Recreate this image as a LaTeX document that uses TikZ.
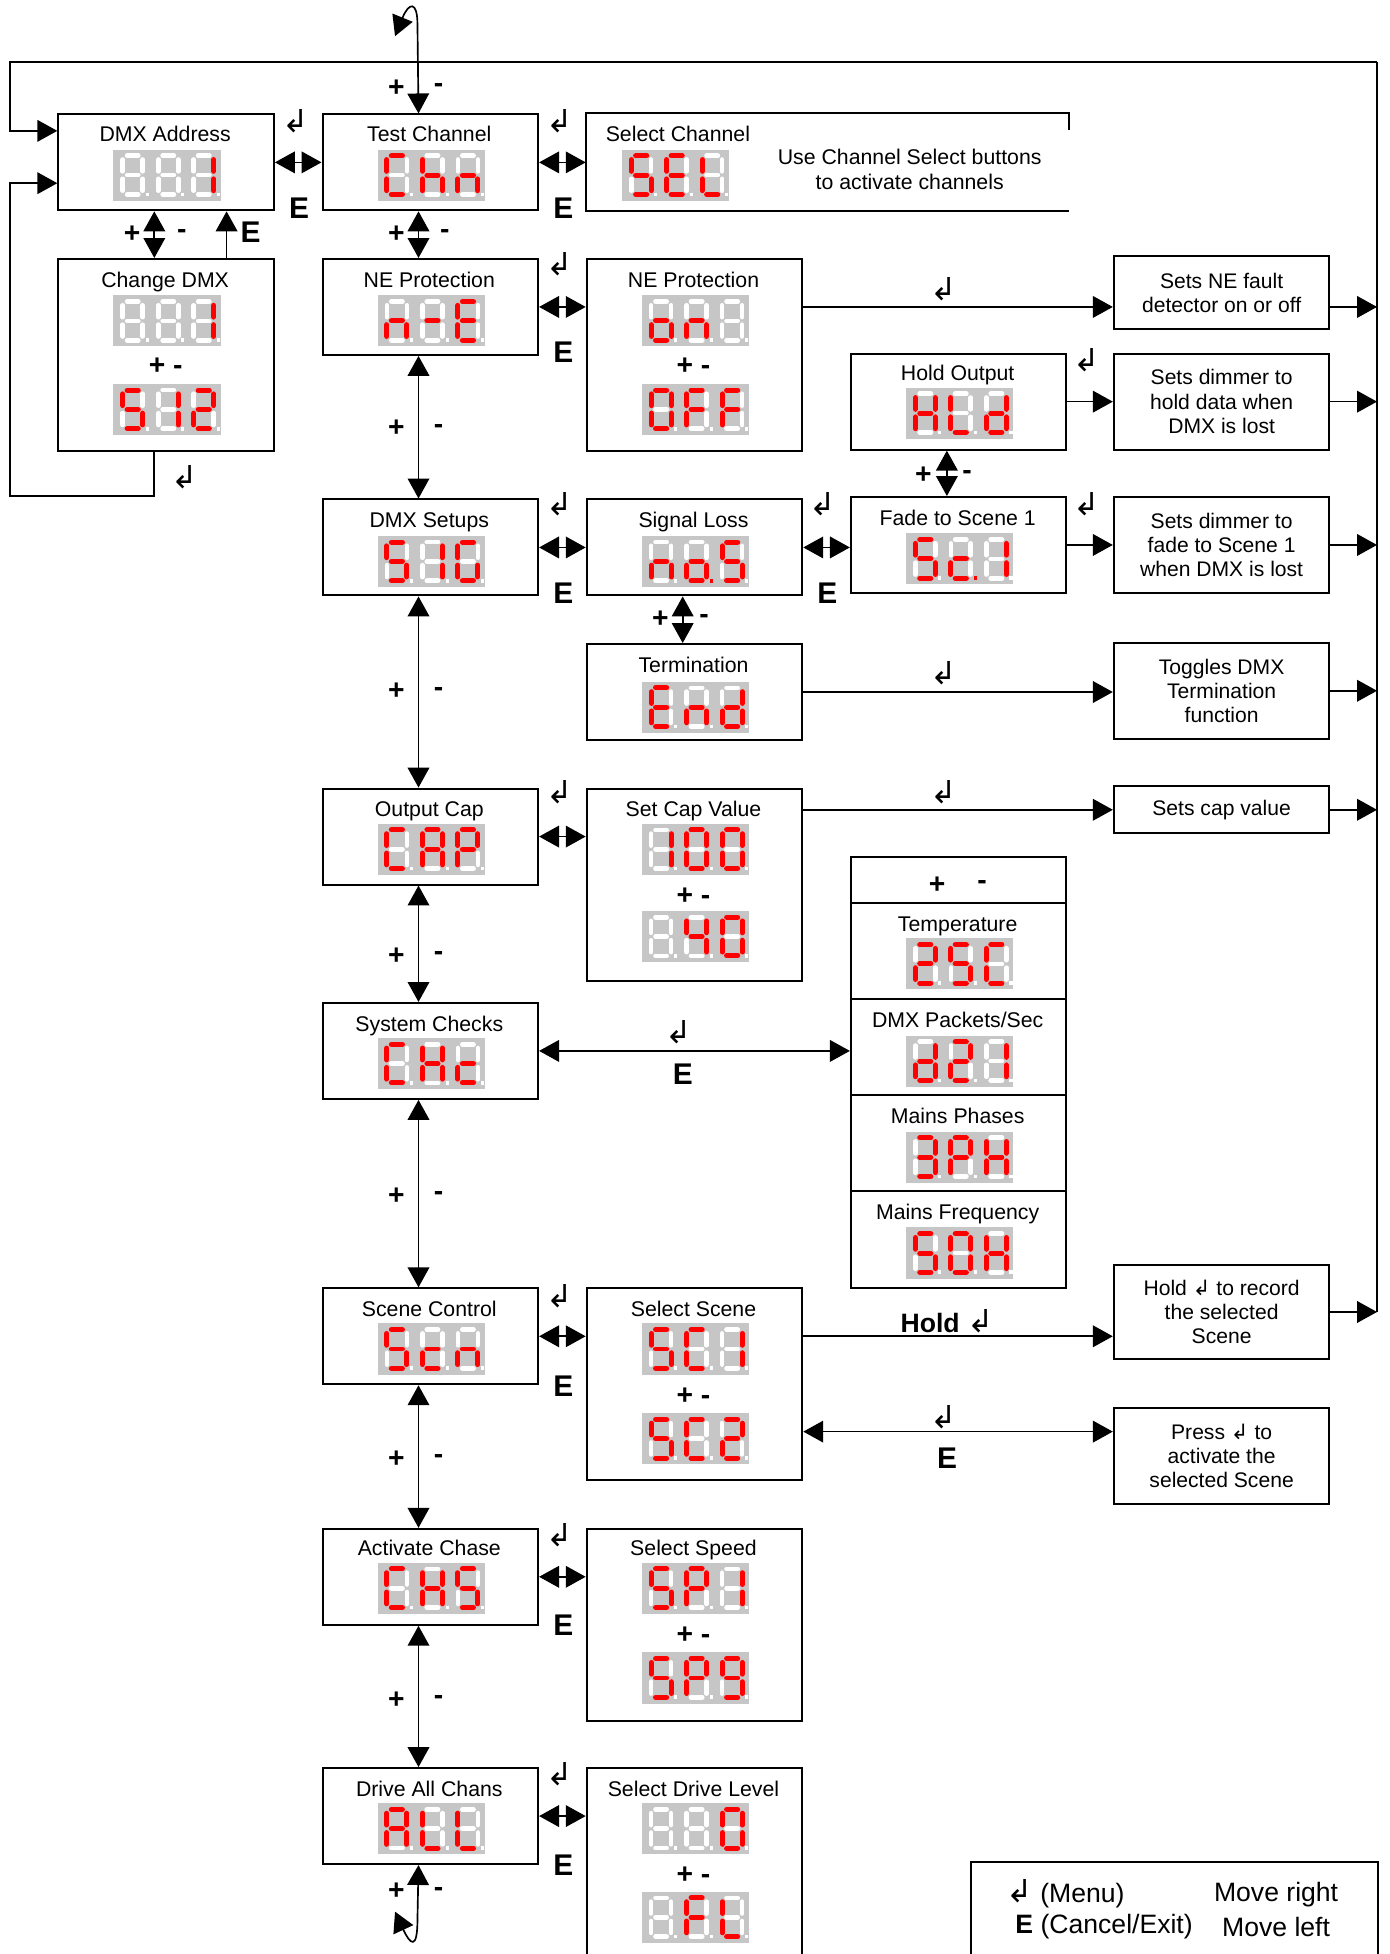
\documentclass[tikz,border=0pt]{standalone}
\usepackage{fontspec}
\setmainfont{Liberation Sans}
\newfontfamily\symfont{DejaVu Sans}
\usetikzlibrary{arrows.meta}

\definecolor{dispgrey}{RGB}{198,198,198}
\definecolor{segred}{RGB}{255,0,0}

\newcommand{\ret}{{\symfont ↲}}

% segments of one digit: #1 offset of the digit, #2 style
\def\sga#1#2{\draw[#2] (#1+9,5) -- (#1+18,5);}
\def\sgb#1#2{\draw[#2] (#1+21.5,8) -- (#1+21.5,17.5);}
\def\sgc#1#2{\draw[#2] (#1+21.5,23.5) -- (#1+21.5,33);}
\def\sgd#1#2{\draw[#2] (#1+9,36) -- (#1+18,36);}
\def\sge#1#2{\draw[#2] (#1+5.5,23.5) -- (#1+5.5,33);}
\def\sgf#1#2{\draw[#2] (#1+5.5,8) -- (#1+5.5,17.5);}
\def\sgg#1#2{\draw[#2] (#1+9,20.5) -- (#1+18,20.5);}
\def\sgp#1#2{\fill[#2] (#1+24,34.5) rectangle (#1+26.5,37.5);}
\def\sgx#1#2{}

% lit segments of the glyphs
\def\glblank{x}
\def\glone{b,c}
\def\gltwo{a,b,g,e,d}
\def\glthree{a,b,g,c,d}
\def\glfour{f,g,b,c}
\def\glnine{a,b,c,d,f,g}
\def\glO{a,b,c,d,e,f}
\def\glA{a,b,c,e,f,g}
\def\glC{a,f,e,d}
\def\glc{g,e,d}
\def\glcdot{g,e,d,p}
\def\gld{b,c,d,e,g}
\def\glE{a,f,g,e,d}
\def\glF{a,f,g,e}
\def\glG{a,f,e,d,c}
\def\glH{f,e,g,b,c}
\def\glh{f,e,g,c}
\def\glL{f,e,d}
\def\gln{e,g,c}
\def\glo{g,c,d,e}
\def\glodot{g,c,d,e,p}
\def\glP{a,b,f,g,e}
\def\glS{a,f,g,c,d}
\def\gldash{g}

\newcommand{\segdigit}[2]{%
  \foreach \s in {a,b,c,d,e,f,g,p}{\csname sg\s\endcsname{#1}{segoff}}%
  \foreach \s in #2{\csname sg\s\endcsname{#1}{segon}}}

% display with three digits, top left corner at (#1,#2)
\newcommand{\segdisp}[5]{%
  \begin{scope}[shift={(#1,#2)}]
    \fill[dispgrey] (0,0) rectangle (86,41);
    \segdigit{2}{#3}\segdigit{30.5}{#4}\segdigit{59}{#5}
  \end{scope}}

\tikzset{every picture/.style={line width=1pt},
  menubox/.style={draw, line width=1.2pt, anchor=north west, inner sep=0pt, minimum width=129.75pt, minimum height=57.75pt},
  tallbox/.style={menubox, minimum height=115.5pt},
  notebox/.style={menubox, align=center, font=\fontsize{12.7}{14.6}\selectfont},
  title/.style={font=\fontsize{12.8}{15}\selectfont, inner sep=0pt, text height=9.4pt, text depth=2.6pt},
  pm/.style={font=\fontsize{17}{19}\selectfont\bfseries, inner sep=0pt},
  elab/.style={font=\fontsize{18}{20}\selectfont\bfseries, inner sep=0pt},
  retsym/.style={font=\fontsize{19}{21}\selectfont, inner sep=0pt},
  segoff/.style={white, line width=2.8pt, line cap=round},
  segon/.style={segred, line width=3pt, line cap=round},
  arr/.style={-{Triangle[length=12pt,width=13pt]}},
  dblarr/.style={{Triangle[length=12pt,width=13pt]}-{Triangle[length=12pt,width=13pt]}}
}

\begin{document}
\begin{tikzpicture}[x=0.75pt,y=0.75pt,yscale=-1,xscale=1]
\useasboundingbox (0,0) rectangle (1115,1568);
\clip (0,0) rectangle (1115,1568);

%Shape: Rectangle (menu column)
\node[menubox] (dmxaddr) at (46,91) {};
\node[menubox] (testch) at (258,91) {};
\node[menubox, draw=none, minimum width=289.5pt] (selch) at (470,91) {};
\draw[line width=1.2pt] ([yshift=10pt]selch.north east) -- (selch.north east) -- (selch.north west) -- (selch.south west) -- (selch.south east);
\node[tallbox] (chgdmx) at (46,207) {};
\node[menubox] (neprot) at (258,207) {};
\node[tallbox] (neprot2) at (470,207) {};
\node[menubox] (hold) at (682,283) {};
\node[menubox] (dmxset) at (258,400) {};
\node[menubox] (signal) at (470,400) {};
\node[menubox] (fade) at (682,398) {};
\node[menubox] (term) at (470,516) {};
\node[menubox] (outcap) at (258,632) {};
\node[tallbox] (setcap) at (470,632) {};
\node[menubox, minimum height=259.5pt] (syslist) at (682,687) {};
\node[menubox] (syschk) at (258,804) {};
\node[menubox] (scenectl) at (258,1033) {};
\node[tallbox] (selscene) at (470,1033) {};
\node[menubox] (chase) at (258,1226) {};
\node[tallbox] (speed) at (470,1226) {};
\node[menubox] (driveall) at (258,1418) {};
\node[tallbox] (seldrive) at (470,1418) {};

%Shape: Rectangle (right column)
\node[notebox, minimum height=43.5pt] (snef) at (893,205) {Sets NE fault\\detector on or off};
\node[notebox] (shold) at (893,283) {Sets dimmer to\\hold data when\\DMX is lost};
\node[notebox] (sfade) at (893,398) {Sets dimmer to\\fade to Scene 1\\when DMX is lost};
\node[notebox] (stog) at (893,515) {Toggles DMX\\Termination\\function};
\node[notebox, minimum height=28.5pt] (scap) at (893,630) {Sets cap value};
\node[notebox, minimum height=57pt] (srec) at (893,1014) {Hold \ret{} to record\\the selected\\Scene};
\node[notebox] (spress) at (893,1129) {Press \ret{} to\\activate the\\selected Scene};
\node[menubox, minimum width=245.25pt, minimum height=60pt] (legend) at (778,1493) {};

%Straight Lines (rows of the check list)
\draw[line width=1.2pt] (682,725) -- (855,725);
\draw[line width=1.2pt] (682,802) -- (855,802);
\draw[line width=1.2pt] (682,879) -- (855,879);
\draw[line width=1.2pt] (682,956) -- (855,956);

% Text Node
\node[title] (dmxaddr-t) at (132.5,109) {DMX Address};
\node[title] (testch-t) at (344.5,109) {Test Channel};
\node[title] (selch-t) at (544,109) {Select Channel};
\node[font=\fontsize{12.8}{14.6}\selectfont, align=center, inner sep=0pt] (selch-n) at (730,136) {Use Channel Select buttons\\to activate channels};
\node[title] (chgdmx-t) at (132.5,226) {Change DMX};
\node[title] (neprot-t) at (344.5,226) {NE Protection};
\node[title] (neprot2-t) at (556.5,226) {NE Protection};
\node[title] (hold-t) at (768.5,301) {Hold Output};
\node[title] (dmxset-t) at (344.5,419) {DMX Setups};
\node[title] (signal-t) at (556.5,419) {Signal Loss};
\node[title] (fade-t) at (768.5,417) {Fade to Scene 1};
\node[title] (term-t) at (556.5,535) {Termination};
\node[title] (outcap-t) at (344.5,651) {Output Cap};
\node[title] (setcap-t) at (556.5,651) {Set Cap Value};
\node[title] (temp-t) at (768.5,743) {Temperature};
\node[title] (packets-t) at (768.5,820) {DMX Packets/Sec};
\node[title] (phases-t) at (768.5,897) {Mains Phases};
\node[title] (freq-t) at (768.5,974) {Mains Frequency};
\node[title] (syschk-t) at (344.5,823) {System Checks};
\node[title] (scenectl-t) at (344.5,1052) {Scene Control};
\node[title] (selscene-t) at (556.5,1052) {Select Scene};
\node[title] (chase-t) at (344.5,1244) {Activate Chase};
\node[title] (speed-t) at (556.5,1244) {Select Speed};
\node[title] (driveall-t) at (344.5,1437) {Drive All Chans};
\node[title] (seldrive-t) at (556.5,1437) {Select Drive Level};

% displays
\segdisp{91}{120}{\glblank}{\glblank}{\glone}
\segdisp{303}{120}{\glC}{\glh}{\gln}
\segdisp{499}{120}{\glS}{\glE}{\glL}
\segdisp{91}{237}{\glblank}{\glblank}{\glone}
\segdisp{91}{308}{\glS}{\glone}{\gltwo}
\segdisp{303}{237}{\gln}{\gldash}{\glE}
\segdisp{515}{237}{\glo}{\gln}{\glblank}
\segdisp{515}{308}{\glO}{\glF}{\glF}
\segdisp{727}{311}{\glH}{\glL}{\gld}
\segdisp{303}{430}{\glS}{\glone}{\glG}
\segdisp{515}{430}{\gln}{\glodot}{\glS}
\segdisp{727}{428}{\glS}{\glcdot}{\glone}
\segdisp{515}{547}{\glE}{\gln}{\gld}
\segdisp{303}{661}{\glC}{\glA}{\glP}
\segdisp{515}{661}{\glone}{\glO}{\glO}
\segdisp{515}{731}{\glblank}{\glfour}{\glO}
\segdisp{727}{753}{\gltwo}{\glS}{\glC}
\segdisp{727}{831}{\gld}{\gltwo}{\glone}
\segdisp{727}{908}{\glthree}{\glP}{\glH}
\segdisp{727}{985}{\glS}{\glO}{\glH}
\segdisp{303}{833}{\glC}{\glH}{\glc}
\segdisp{303}{1062}{\glS}{\glc}{\gln}
\segdisp{515}{1062}{\glS}{\glC}{\glone}
\segdisp{515}{1134}{\glS}{\glC}{\gltwo}
\segdisp{303}{1254}{\glC}{\glH}{\glS}
\segdisp{515}{1254}{\glS}{\glP}{\glone}
\segdisp{515}{1326}{\glS}{\glP}{\glnine}
\segdisp{303}{1447}{\glA}{\glL}{\glL}
\segdisp{515}{1447}{\glblank}{\glblank}{\glO}
\segdisp{515}{1518}{\glblank}{\glF}{\glL}

% Text Node (+ - inside boxes)
\node[pm] (chgdmx-pm) at (133,294) {+ -};
\node[pm] (neprot2-pm) at (556.5,294) {+ -};
\node[pm] (setcap-pm) at (556.5,719) {+ -};
\node[pm] (syslist-p) at (752,710) {+};
\node[pm] (syslist-m) at (788,710) {-};
\node[pm] (selscene-pm) at (556.5,1120) {+ -};
\node[pm] (speed-pm) at (556.5,1312) {+ -};
\node[pm] (seldrive-pm) at (556.5,1505) {+ -};

%Straight Lines
\coordinate (railtop) at (1105,50);
\coordinate (lpa) at (8,50);
\coordinate (lpb) at (8,105);
\coordinate (lpc) at (8,398);
\coordinate (lpd) at (8,147);
\draw (railtop) -- (srec.east -| railtop);
\draw[arr] (railtop) -- (lpa) -- (lpb) -- (lpb -| dmxaddr.west);
\draw[arr] ([xshift=-7.1pt]chgdmx.south) |- (lpc) -- (lpd) -- (lpd -| dmxaddr.west);

\draw[dblarr] (dmxaddr.east) -- (testch.west);
\draw[dblarr] (testch.east) -- (selch.west);
\draw[dblarr] ([xshift=-7.1pt]dmxaddr.south) -- ([xshift=-7.1pt]chgdmx.north);
\draw[arr] ([xshift=36.4pt]chgdmx.north) -- ([xshift=36.4pt]dmxaddr.south);
\draw[dblarr] ([xshift=-7.1pt]testch.south) -- ([xshift=-7.1pt]neprot.north);
\draw[dblarr] (neprot.east) -- (neprot.east -| neprot2.west);
\draw[arr] (neprot.east -| neprot2.east) -- (neprot.east -| snef.west);
\draw[arr] (neprot.east -| snef.east) -- (neprot.east -| railtop);
\draw[arr] (hold.east) -- (shold.west);
\draw[arr] (shold.east) -- (shold.east -| railtop);
\draw[dblarr] ([xshift=-7.1pt]hold.south) -- ([xshift=-7.1pt]fade.north);
\draw[dblarr] ([xshift=-7.1pt]neprot.south) -- ([xshift=-7.1pt]dmxset.north);
\draw[dblarr] (dmxset.east) -- (signal.west);
\draw[dblarr] (signal.east) -- (signal.east -| fade.west);
\draw[arr] (fade.east) -- (sfade.west);
\draw[arr] (sfade.east) -- (sfade.east -| railtop);
\draw[dblarr] ([xshift=-7.1pt]signal.south) -- ([xshift=-7.1pt]term.north);
\draw[arr] (term.east) -- (term.east -| stog.west);
\draw[arr] (stog.east) -- (stog.east -| railtop);
\draw[dblarr] ([xshift=-7.1pt]dmxset.south) -- ([xshift=-7.1pt]outcap.north);
\draw[dblarr] (outcap.east) -- (outcap.east -| setcap.west);
\draw[arr] (scap.west -| setcap.east) -- (scap.west);
\draw[arr] (scap.east) -- (scap.east -| railtop);
\draw[dblarr] ([xshift=-7.1pt]outcap.south) -- ([xshift=-7.1pt]syschk.north);
\draw[dblarr] (syschk.east) -- (syschk.east -| syslist.west);
\draw[dblarr] ([xshift=-7.1pt]syschk.south) -- ([xshift=-7.1pt]scenectl.north);
\draw[dblarr] (scenectl.east) -- (scenectl.east -| selscene.west);
\draw[arr] (scenectl.east -| selscene.east) -- (scenectl.east -| srec.west);
\draw[arr] (srec.east) -- (srec.east -| railtop);
\coordinate (pressin) at ([yshift=28.5pt]selscene.east);
\draw[dblarr] (pressin) -- (pressin -| spress.west);
\draw[dblarr] ([xshift=-7.1pt]scenectl.south) -- ([xshift=-7.1pt]chase.north);
\draw[dblarr] (chase.east) -- (chase.east -| speed.west);
\draw[dblarr] ([xshift=-7.1pt]chase.south) -- ([xshift=-7.1pt]driveall.north);
\draw[dblarr] (driveall.east) -- (driveall.east -| seldrive.west);

%Curve Lines (wrap round)
\coordinate (wrapa) at (335,20);
\coordinate (wraptop) at (317,29);
\draw[dblarr] ([xshift=-7.1pt]testch.north) -- (wrapa) .. controls (335,0) and (328,2) .. (wraptop);
\coordinate (wrapb) at (335,1540);
\coordinate (wrapbot) at (317,1534);
\draw[dblarr] ([xshift=-7.1pt]driveall.south) -- (wrapb) .. controls (335,1566) and (329,1560) .. (wrapbot);

% Text Node (+ and - on the links)
\node[pm] (p1) at (318,71) {+};   \node[pm] (m1) at (352,71) {-};
\node[pm] (p2) at (106,188) {+};  \node[pm] (m2) at (146,188) {-};
\node[pm] (p3) at (318,188) {+};  \node[pm] (m3) at (357,188) {-};
\node[pm] (p4) at (318,344) {+};  \node[pm] (m4) at (352,344) {-};
\node[pm] (p5) at (741,381) {+};  \node[pm] (m5) at (776,381) {-};
\node[pm] (p6) at (530,497) {+};  \node[pm] (m6) at (565,497) {-};
\node[pm] (p7) at (318,555) {+};  \node[pm] (m7) at (352,555) {-};
\node[pm] (p8) at (318,767) {+};  \node[pm] (m8) at (352,767) {-};
\node[pm] (p9) at (318,960) {+};  \node[pm] (m9) at (352,960) {-};
\node[pm] (p10) at (318,1171) {+}; \node[pm] (m10) at (352,1171) {-};
\node[pm] (p11) at (318,1364) {+}; \node[pm] (m11) at (352,1364) {-};
\node[pm] (p12) at (318,1518) {+}; \node[pm] (m12) at (352,1518) {-};

% Text Node (E labels)
\node[elab] (e1) at (240,167) {E};
\node[elab] (e2) at (452,167) {E};
\node[elab] (e3) at (201,186) {E};
\node[elab] (e4) at (452,283) {E};
\node[elab] (e5) at (452,476) {E};
\node[elab] (e6) at (664,476) {E};
\node[elab] (e7) at (548,862) {E};
\node[elab] (e8) at (452,1112) {E};
\node[elab] (e9) at (760,1170) {E};
\node[elab] (e10) at (452,1304) {E};
\node[elab] (e11) at (452,1497) {E};

% Text Node (menu key)
\node[retsym] (r1) at (237,97) {\ret};
\node[retsym] (r2) at (449,97) {\ret};
\node[retsym] (r3) at (449,212) {\ret};
\node[retsym] (r4) at (757,232) {\ret};
\node[retsym] (r5) at (872,289) {\ret};
\node[retsym] (r6) at (449,405) {\ret};
\node[retsym] (r7) at (660,405) {\ret};
\node[retsym] (r8) at (872,405) {\ret};
\node[retsym] (r9) at (757,540) {\ret};
\node[retsym] (r10) at (449,636) {\ret};
\node[retsym] (r11) at (757,636) {\ret};
\node[retsym] (r12) at (545,828) {\ret};
\node[retsym] (r13) at (449,1040) {\ret};
\node[retsym] (r14) at (757,1137) {\ret};
\node[retsym] (r15) at (449,1232) {\ret};
\node[retsym] (r16) at (449,1424) {\ret};
\node[retsym] (r17) at (148,383) {\ret};
\node[font=\fontsize{16}{18}\selectfont, inner sep=0pt] (holdlab) at (760,1060) {\textbf{Hold} {\fontsize{19}{21}\selectfont\ret}};

% Text Node (legend)
\node[font=\fontsize{16}{19}\selectfont, inner sep=0pt] (leg1) at (855,1520) {{\fontsize{19}{21}\selectfont\ret} (Menu)};
\node[font=\fontsize{16}{19}\selectfont, inner sep=0pt] (leg2) at (886,1546) {\textbf{E} (Cancel/Exit)};
\node[font=\fontsize{16}{19}\selectfont, inner sep=0pt] (leg3) at (1024,1520) {Move right};
\node[font=\fontsize{16}{19}\selectfont, inner sep=0pt] (leg4) at (1024,1546) {Move left};

\end{tikzpicture}
\end{document}
